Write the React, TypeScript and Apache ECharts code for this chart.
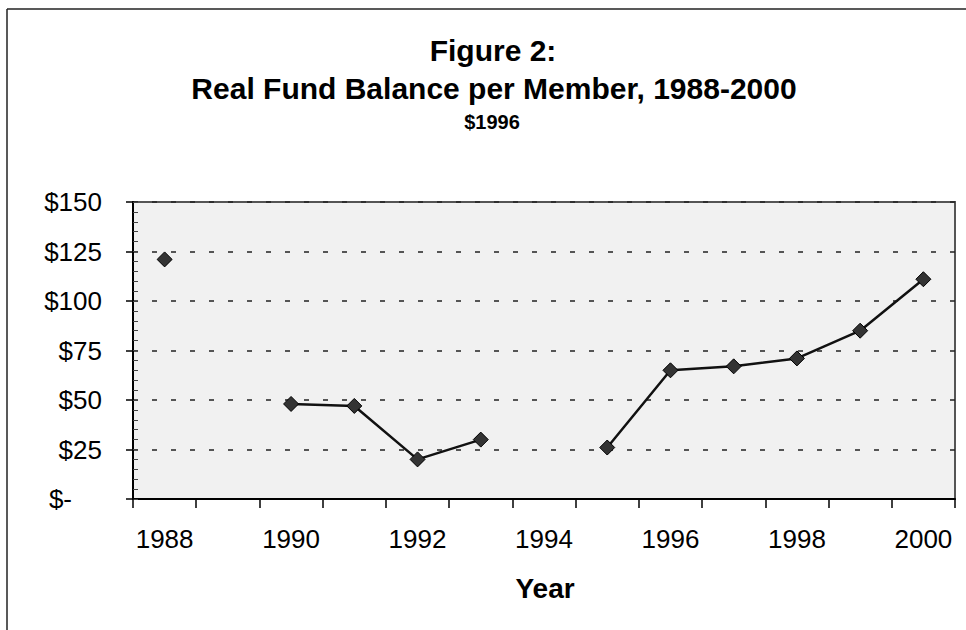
import React, { useEffect, useRef } from "react";
import * as echarts from "echarts";

const years = ["1988", "1989", "1990", "1991", "1992", "1993", "1994", "1995", "1996", "1997", "1998", "1999", "2000"];
const balance: (number | null)[] = [121, null, 48, 47, 20, 30, null, 26, 65, 67, 71, 85, 111];
const yTicks = [0, 25, 50, 75, 100, 125, 150];
const titleLines = ["Figure 2:", "Real Fund Balance per Member, 1988-2000"];
const subtitle = "$1996";
const xName = "Year";

const FONT = '"Liberation Sans", Arial, Helvetica, sans-serif';

export default function App() {
  const ref = useRef<HTMLDivElement>(null);
  useEffect(() => {
    if (!ref.current) return;
    const chart = echarts.init(ref.current, undefined, { renderer: "svg" });
    const option = {
      animation: false,
      backgroundColor: "#ffffff",
      textStyle: { fontFamily: FONT },
      grid: {
        left: 133,
        right: 11,
        top: 202,
        bottom: 131,
        show: true,
        backgroundColor: "#f1f1f1",
        borderColor: "#555555",
        borderWidth: 2,
      },
      graphic: [
        { type: "line", shape: { x1: 7, y1: 9, x2: 966, y2: 9 }, style: { stroke: "#222", lineWidth: 1.5 } },
        { type: "line", shape: { x1: 7, y1: 9, x2: 7, y2: 630 }, style: { stroke: "#222", lineWidth: 1.5 } },
        {
          type: "text", x: 493, y: 50,
          style: { text: titleLines[0], font: `bold 30px ${FONT}`, fill: "#000", textAlign: "center", textVerticalAlign: "middle" },
        },
        {
          type: "text", x: 494, y: 88,
          style: { text: titleLines[1], font: `bold 30px ${FONT}`, fill: "#000", textAlign: "center", textVerticalAlign: "middle" },
        },
        {
          type: "text", x: 492, y: 122,
          style: { text: subtitle, font: `bold 20px ${FONT}`, fill: "#000", textAlign: "center", textVerticalAlign: "middle" },
        },
        {
          type: "text", x: 545, y: 588,
          style: { text: xName, font: `bold 28px ${FONT}`, fill: "#000", textAlign: "center", textVerticalAlign: "middle" },
        },
      ],
      xAxis: {
        type: "category",
        data: years,
        boundaryGap: true,
        axisLine: { show: true, lineStyle: { color: "#000", width: 2 } },
        axisTick: { show: true, interval: 0, length: 9, lineStyle: { color: "#000", width: 1.5 } },
        axisLabel: { interval: 1, color: "#000", fontSize: 26, fontFamily: FONT, margin: 27 },
        splitLine: { show: false },
      },
      yAxis: [
        {
          type: "value",
          min: yTicks[0],
          max: yTicks[yTicks.length - 1],
          interval: 25,
          axisLine: { show: true, lineStyle: { color: "#000", width: 2 } },
          axisTick: { show: true, length: 7, lineStyle: { color: "#000", width: 1.5 } },
          axisLabel: {
            color: "#000",
            fontSize: 26,
            fontFamily: FONT,
            margin: 31,
            formatter: (v: number) => (v === 0 ? "{z|$-}" : "$" + v),
            rich: { z: { fontSize: 26, fontFamily: FONT, color: "#000", padding: [0, 30, 0, 0] } },
          },
          splitLine: { show: true, lineStyle: { color: "#222", width: 1.5, type: [5, 14] } },
        },
        {
          type: "value",
          min: yTicks[0],
          max: yTicks[yTicks.length - 1],
          interval: 5,
          position: "left",
          axisLine: { show: false },
          axisTick: { show: true, inside: true, length: 5, lineStyle: { color: "#444", width: 1 } },
          axisLabel: { show: false },
          splitLine: { show: false },
        },
      ],
      series: [
        {
          type: "line",
          data: balance,
          yAxisIndex: 0,
          connectNulls: false,
          symbol: "diamond",
          symbolSize: 15,
          showAllSymbol: true,
          lineStyle: { color: "#111", width: 2.5 },
          itemStyle: { color: "#333", borderColor: "#000", borderWidth: 1 },
        },
      ],
    };
    chart.setOption(option as any);
    return () => chart.dispose();
  }, []);
  return <div ref={ref} style={{ position: "fixed", left: 0, top: 0, width: 966, height: 630 }} />;
}
